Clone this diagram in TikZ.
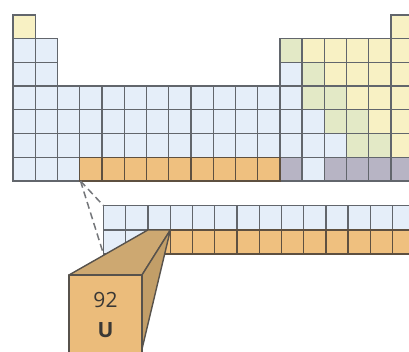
\documentclass[tikz,border=0pt]{standalone}
\usepackage{fontspec}
\setmainfont{Open Sans}
\usetikzlibrary{calc}
\definecolor{sky}{HTML}{E5EEF9}
\definecolor{lemon}{HTML}{F8F1C4}
\definecolor{moss}{HTML}{E3E9C6}
\definecolor{amber}{HTML}{EFC07F}
\definecolor{dusk}{HTML}{B7B4C4}
\definecolor{gridline}{HTML}{62666C}
\definecolor{amberline}{HTML}{5E5040}
\definecolor{dashgray}{HTML}{74767A}
\definecolor{boxfront}{HTML}{EBBC7B}
\definecolor{boxtop}{HTML}{CDA871}
\definecolor{boxside}{HTML}{C29E68}
\definecolor{boxedge}{HTML}{57524C}
\definecolor{ink}{HTML}{3A3835}
\tikzset{
  cellbox/.style={draw=gridline,line width=1.3pt},
  skycell/.style={cellbox,fill=sky},
  lemoncell/.style={cellbox,fill=lemon},
  mosscell/.style={cellbox,fill=moss},
  duskcell/.style={cellbox,fill=dusk},
  ambercell/.style={cellbox,draw=amberline,fill=amber},
  zoomline/.style={draw=dashgray,line width=1.5pt,dash pattern=on 7pt off 4pt},
  facebox/.style={draw=boxedge,line width=1.4pt,line join=round},
  elemnum/.style={inner sep=0pt,text=ink,font=\fontsize{21}{24}\selectfont},
  elemsym/.style={inner sep=0pt,text=ink,font=\fontsize{21}{24}\selectfont\bfseries}
}
% one cell of the table: style, column, row
\newcommand{\pcell}[3]{\path[#1] ({13+(#2-1)*\cw},{15+(#3-1)*\ch}) rectangle ++(\cw,\ch);}

\begin{document}
\begin{tikzpicture}[x=1pt,y=-1pt]
  \def\cw{22.24}\def\ch{23.7}
  \useasboundingbox (0,0) rectangle (409,351);
  \clip (0,0) rectangle (409,351);
  % periodic table
  \foreach \c/\r in {1/2,2/2,1/3,2/3,13/3,14/7}{\pcell{skycell}{\c}{\r}}
  \foreach \r/\n in {4/13,5/14,6/15,7/3}{
    \foreach \c in {1,...,\n}{\pcell{skycell}{\c}{\r}}}
  \foreach \c/\r in {1/1,18/1,14/2,15/2,16/2,17/2,18/2,15/3,16/3,17/3,18/3,
                     16/4,17/4,18/4,17/5,18/5,18/6}{\pcell{lemoncell}{\c}{\r}}
  \foreach \c/\r in {13/2,14/3,14/4,15/4,15/5,16/5,16/6,17/6}{\pcell{mosscell}{\c}{\r}}
  \foreach \c in {13,15,16,17,18}{\pcell{duskcell}{\c}{7}}
  \foreach \c in {4,...,12}{\pcell{ambercell}{\c}{7}}
  % enlarged strip
  \foreach \i in {1,...,14}{\path[skycell] ({103.5+(\i-1)*\cw},205.7) rectangle ++(\cw,24.2);}
  \foreach \i in {1,2}{\path[skycell] ({103.5+(\i-1)*\cw},229.9) rectangle ++(\cw,24.2);}
  \foreach \i in {3,...,14}{\path[ambercell] ({103.5+(\i-1)*\cw},229.9) rectangle ++(\cw,24.2);}
  \coordinate (acorner) at (80.5,181);
  \coordinate (stripnw) at (103.5,205.7);
  \coordinate (stripsw) at (103.5,254.1);
  \draw[zoomline] (acorner) -- (stripnw);
  \draw[zoomline] (acorner) -- (stripsw);
  % raised cell
  \coordinate (ubackl) at (148,229.9);
  \coordinate (ubackr) at (170.4,229.9);
  \coordinate (ufrontl) at (69,275);
  \coordinate (ufrontr) at (142,275);
  \coordinate (ufrontbr) at (142,356);
  \coordinate (usidebot) at (142,349);
  \path[facebox,fill=boxtop] (ufrontl) -- (ubackl) -- (ubackr) -- (ufrontr) -- cycle;
  \path[facebox,fill=boxside] (ufrontr) -- (ubackr) -- (usidebot) -- cycle;
  \path[facebox,fill=boxfront] (ufrontl) rectangle (ufrontbr);
  \node[elemnum] (unum) at (105.5,300) {92};
  \node[elemsym] (usym) at (105.5,330) {U};
\end{tikzpicture}
\end{document}
